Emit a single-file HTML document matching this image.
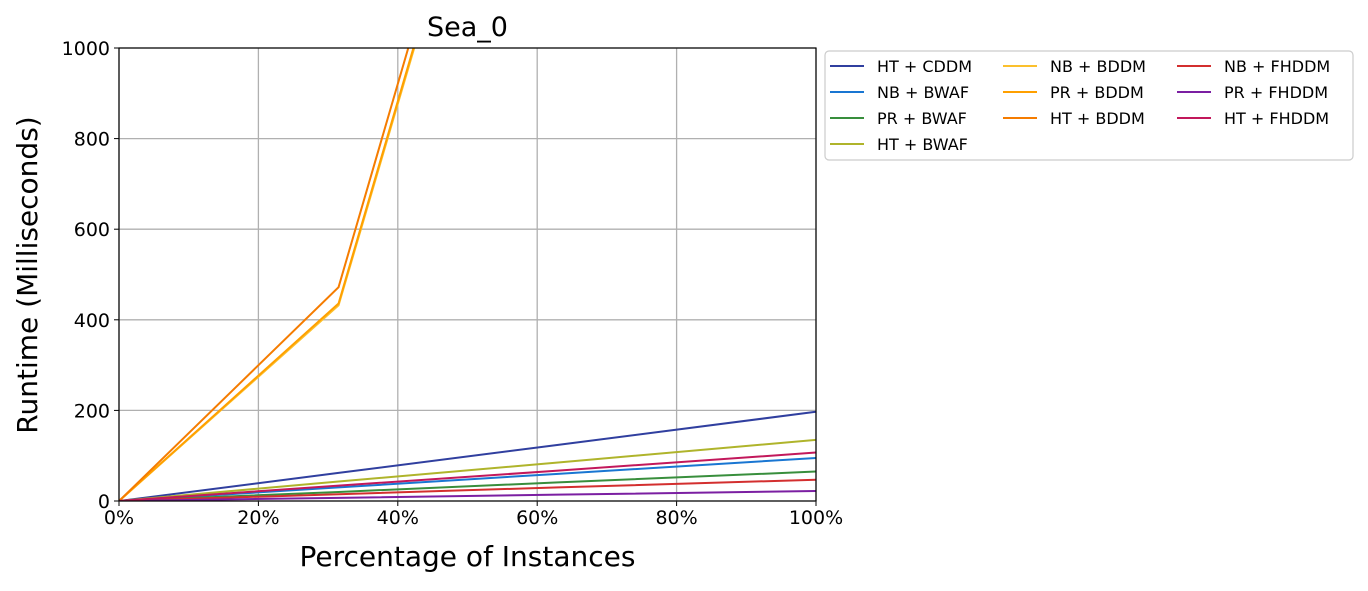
<!DOCTYPE html>
<html><head><meta charset="utf-8"><style>
body{margin:0;background:#fff;font-family:"DejaVu Sans","Liberation Sans",sans-serif;}
svg text{font-family:"DejaVu Sans","Liberation Sans",sans-serif;}
</style></head><body>
<svg id="c" width="1368" height="587" xmlns="http://www.w3.org/2000/svg"></svg>
<script>
const xs=[0,31.5,63,100];
const seriesNames=["HT + CDDM","NB + BWAF","PR + BWAF","HT + BWAF","NB + BDDM","PR + BDDM","HT + BDDM","NB + FHDDM","PR + FHDDM","HT + FHDDM"];
const htCddm=[0,62,124,197];
const nbBwaf=[0,30,60,95];
const prBwaf=[0,20,41,65];
const htBwaf=[0,43,85,135];
const nbBddm=[0,432,2080,4000];
const prBddm=[0,436,2090,4000];
const htBddm=[0,472,2135,4000];
const nbFhddm=[0,15,30,47];
const prFhddm=[0,7,14,22];
const htFhddm=[0,34,67,107];
const seriesValues=[htCddm,nbBwaf,prBwaf,htBwaf,nbBddm,prBddm,htBddm,nbFhddm,prFhddm,htFhddm];
const colors=["#303f9f","#1976d2","#388e3c","#afb42b","#fbc02d","#ffa000","#f57c00","#d32f2f","#7b1fa2","#c2185b"];
const xTicks=[0,20,40,60,80,100];
const yTicks=[0,200,400,600,800,1000];
const L=119,R=816,T=48,B=501;
const X=v=>L+(R-L)*v/100, Y=v=>B-(B-T)*v/1000;
const s=document.getElementById('c');const NS="http://www.w3.org/2000/svg";
function el(t,a,p){const e=document.createElementNS(NS,t);for(const k in a)e.setAttribute(k,a[k]);(p||s).appendChild(e);return e;}
const defs=el('defs',{});const cp=el('clipPath',{id:'pc'},defs);el('rect',{x:L,y:T,width:R-L,height:B-T},cp);
xTicks.forEach(t=>{const g=el('line',{x1:X(t),x2:X(t),y1:T,y2:B,stroke:'#b0b0b0','stroke-width':1.3});


el('line',{x1:X(t),x2:X(t),y1:B,y2:B+5,stroke:'#000','stroke-width':1});
const tx=el('text',{x:X(t),y:B+23,'text-anchor':'middle','font-size':19});tx.textContent=t+'%';

});
yTicks.forEach(t=>{const g=el('line',{x1:L,x2:R,y1:Y(t),y2:Y(t),stroke:'#b0b0b0','stroke-width':1.3});


el('line',{x1:L-5,x2:L,y1:Y(t),y2:Y(t),stroke:'#000','stroke-width':1});
const tx=el('text',{x:L-9,y:Y(t)+7,'text-anchor':'end','font-size':19});tx.textContent=t;

});
const gL=el('g',{'clip-path':'url(#pc)'});
seriesValues.forEach((vals,i)=>{const p=el('polyline',{points:vals.map((v,j)=>X(xs[j])+','+Y(v)).join(' '),fill:'none',stroke:colors[i],'stroke-width':2},gL);

});
const fr=el('rect',{x:L,y:T,width:R-L,height:B-T,fill:'none',stroke:'#000','stroke-width':1.2});


let t=el('text',{x:(L+R)/2,y:36,'text-anchor':'middle','font-size':27});t.textContent='Sea_0';


t=el('text',{x:(L+R)/2,y:566,'text-anchor':'middle','font-size':28});t.textContent='Percentage of Instances';


t=el('text',{x:0,y:0,'text-anchor':'middle','font-size':28,transform:'translate(37,275) rotate(-90)'});t.textContent='Runtime (Milliseconds)';


const lg=el('rect',{x:825,y:51,width:528,height:109,rx:4,fill:'#fff',stroke:'#ccc','stroke-width':1.2});


const colX=[830,1003,1177],rowY=[66,92,118,144];
const order=[[0,0],[0,1],[0,2],[0,3],[1,0],[1,1],[1,2],[2,0],[2,1],[2,2]];
seriesNames.forEach((n,i)=>{const [c,r]=order[i];const x=colX[c],y=rowY[r];
el('line',{x1:x,x2:x+34,y1:y,y2:y,stroke:colors[i],'stroke-width':2});
const tx=el('text',{x:x+47,y:y+6,'font-size':16});tx.textContent=n;

});
</script>
</body></html>
